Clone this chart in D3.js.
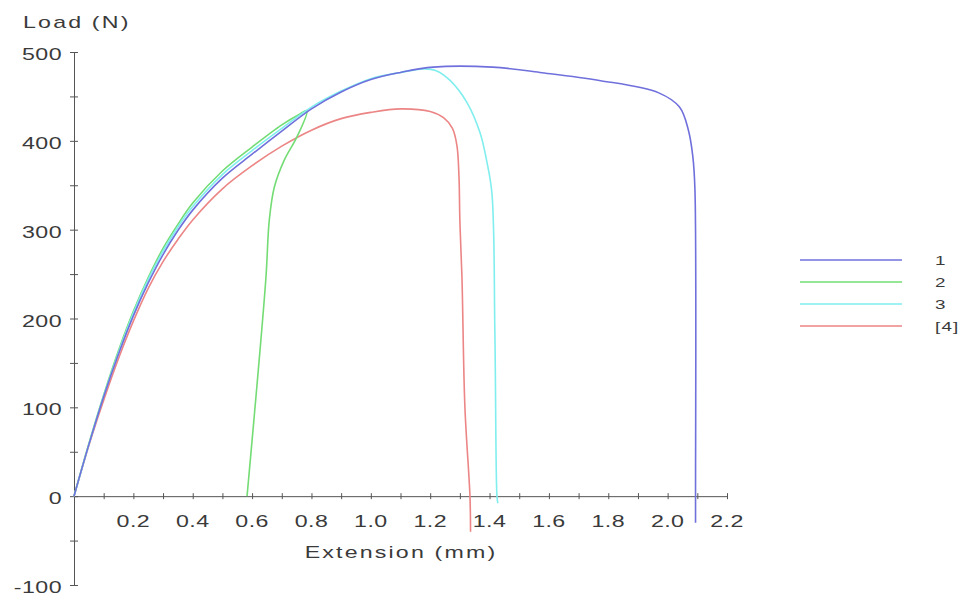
<!DOCTYPE html>
<html>
<head>
<meta charset="utf-8">
<script src="https://cdn.jsdelivr.net/npm/d3@7/dist/d3.min.js"></script>
<style>
  html, body { margin: 0; padding: 0; background: #fff; }
  svg { display: block; }
  text { font-family: "Liberation Sans", Arial, sans-serif; fill: #3a3a3a; }
</style>
</head>
<body>
<svg id="chart" width="973" height="604"></svg>
<script>
// Tensile test curves: load (N) against extension (mm) for four specimens
const seriesNames = ["1", "2", "3", "[4]"];
const seriesColors = ["#7070dd", "#74dc74", "#80eeee", "#ec8585"];

const ext1  = [0, 0.05, 0.10, 0.15, 0.20, 0.25, 0.30, 0.35, 0.40, 0.50, 0.60, 0.70, 0.80, 0.90, 1.00, 1.10, 1.21, 1.41, 1.57, 1.77, 1.97, 2.04, 2.07, 2.085, 2.092, 2.094, 2.094];
const load1 = [0, 58, 112, 160, 203, 240, 272, 299, 322, 358, 385, 411, 436, 455, 469, 477, 483, 483, 477, 468, 454, 438, 412, 382, 345, 0, -30];

const ext2  = [0, 0.05, 0.10, 0.15, 0.20, 0.25, 0.30, 0.35, 0.40, 0.50, 0.60, 0.70, 0.76, 0.785, 0.752, 0.708, 0.675, 0.658, 0.646, 0.583];
const load2 = [0, 59, 114, 164, 208, 246, 279, 306, 330, 366, 393, 418, 430, 434, 405, 378, 348, 311, 243, 0];

const ext3  = [0, 0.05, 0.10, 0.15, 0.20, 0.25, 0.30, 0.35, 0.40, 0.50, 0.60, 0.70, 0.80, 0.90, 1.00, 1.10, 1.18, 1.22, 1.267, 1.324, 1.368, 1.39, 1.408, 1.418, 1.425, 1.428];
const load3 = [0, 58, 113, 162, 206, 244, 276, 303, 326, 362, 389, 414, 438, 456, 470, 477, 481, 479, 468, 443, 409, 378, 341, 183, 0, -8];

const ext4  = [0, 0.05, 0.10, 0.15, 0.20, 0.25, 0.30, 0.35, 0.40, 0.50, 0.60, 0.70, 0.80, 0.90, 1.00, 1.10, 1.20, 1.245, 1.275, 1.29, 1.297, 1.30, 1.307, 1.317, 1.334, 1.336];
const load4 = [0, 57, 108, 155, 197, 234, 264, 289, 311, 346, 372, 394, 412, 425, 432, 436, 433, 426, 414, 395, 360, 311, 247, 100, 0, -40];

const xTickValues = [0.2, 0.4, 0.6, 0.8, 1.0, 1.2, 1.4, 1.6, 1.8, 2.0, 2.2];
const yTickValues = [-100, 0, 100, 200, 300, 400, 500];

const xAxisTitle = "Extension (mm)";
const yAxisTitle = "Load (N)";

const series = [
  { name: seriesNames[0], color: seriesColors[0], ext: ext1, load: load1 },
  { name: seriesNames[1], color: seriesColors[1], ext: ext2, load: load2 },
  { name: seriesNames[2], color: seriesColors[2], ext: ext3, load: load3 },
  { name: seriesNames[3], color: seriesColors[3], ext: ext4, load: load4 }
];

const svg = d3.select("#chart");
const x = d3.scaleLinear().domain([0, 2.2]).range([74, 727]);
const y = d3.scaleLinear().domain([-100, 500]).range([585, 52]);
const axisColor = "#555";
const stretch = 1.45;

// Horizontally stretched label helper
function label(px, py, txt, size, anchor, spacing) {
  const g = svg.append("g").attr("transform", `translate(${px},${py}) scale(${stretch},1)`);
  g.append("text")
    .attr("text-anchor", anchor)
    .attr("font-size", size)
    .attr("letter-spacing", spacing)
    .text(txt);
}

// Y axis with crossing ticks every 50 N
const yAxis = d3.axisLeft(y).tickValues(d3.range(-100, 501, 50)).tickFormat("").tickSizeOuter(0);
const gy = svg.append("g").attr("transform", `translate(${x(0)},0)`).call(yAxis);
gy.select(".domain").attr("stroke", axisColor);
gy.selectAll(".tick line").attr("x1", -4).attr("x2", 4).attr("stroke", axisColor);

// X axis along zero load, crossing ticks every 0.1 mm
const xAxis = d3.axisBottom(x).tickValues(d3.range(0, 2.21, 0.1)).tickFormat("").tickSizeOuter(0);
const gx = svg.append("g").attr("transform", `translate(0,${y(0)})`).call(xAxis);
gx.select(".domain").attr("stroke", axisColor);
gx.selectAll(".tick line").attr("y1", -3).attr("y2", 3).attr("stroke", axisColor);

// Tick labels
yTickValues.forEach(v => label(62, y(v) + 8, String(v), 16, "end", 0.3));
xTickValues.forEach(v => label(x(v), 527, v.toFixed(1), 16, "middle", 0.3));

// Axis titles
label(401, 558, xAxisTitle, 16, "middle", 1.5);
label(23, 28, yAxisTitle, 16, "start", 1.5);

// Curves
const line = d3.line()
  .x(d => x(d[0]))
  .y(d => y(d[1]))
  .curve(d3.curveCatmullRom.alpha(0.5));

const drawOrder = [3, 1, 2, 0];
drawOrder.forEach(i => {
  const s = series[i];
  const pts = s.ext.map((e, k) => [e, s.load[k]]);
  svg.append("path")
    .datum(pts)
    .attr("fill", "none")
    .attr("stroke", s.color)
    .attr("stroke-width", 1.6)
    .attr("stroke-linejoin", "round")
    .attr("d", line);
});

// Legend
const legendY = d3.scalePoint().domain(seriesNames).range([260, 326]);
series.forEach(s => {
  svg.append("line")
    .attr("x1", 800).attr("x2", 902)
    .attr("y1", legendY(s.name)).attr("y2", legendY(s.name))
    .attr("stroke", s.color).attr("stroke-width", 1.6);
  label(935, legendY(s.name) + 5, s.name, 13, "start", 0.8);
});
</script>
</body>
</html>
